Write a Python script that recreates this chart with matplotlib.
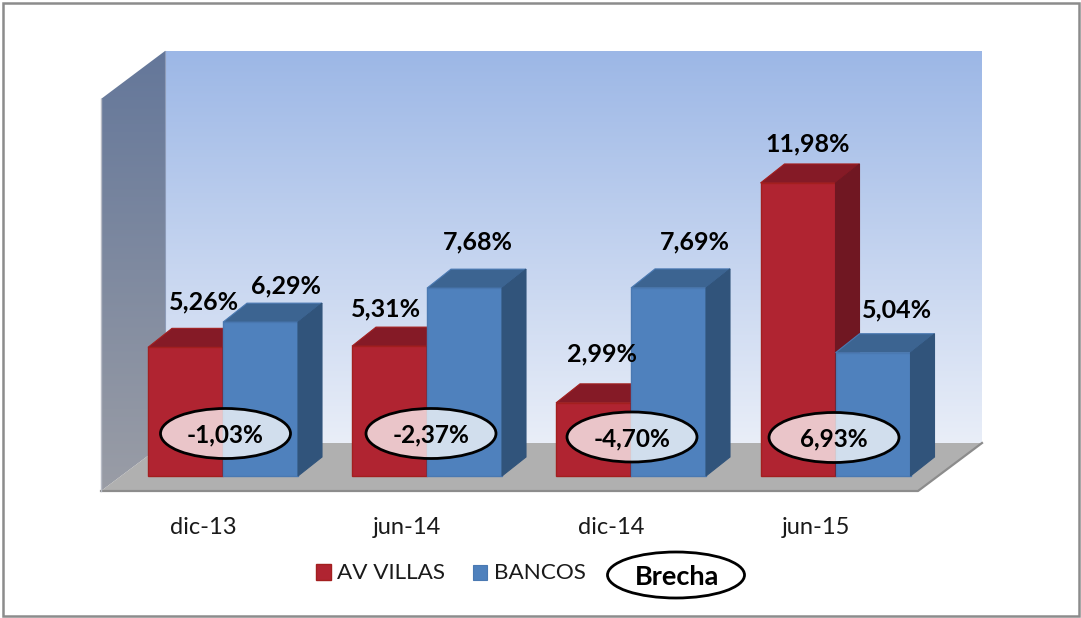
import numpy as np
import matplotlib
matplotlib.use('Agg')
import matplotlib.pyplot as plt
from matplotlib.colors import LinearSegmentedColormap
from matplotlib.patches import Polygon, Ellipse, Rectangle

# chart values
fechas = ['dic-13', 'jun-14', 'dic-14', 'jun-15']
av_villas = [5.26, 5.31, 2.99, 11.98]
bancos = [6.29, 7.68, 7.69, 5.04]
brecha = [-1.03, -2.37, -4.70, 6.93]

# layout, all in picture pixels
W, H = 1081, 618
base_y = 476
px_per_unit = 24.46
group_x = [223, 427, 631, 835.5]
bar_w = 75
dx3d, dy3d = 24, 19
ell_y = [433.5, 433.5, 437, 437.5]
ell_x = [225.5, 431, 632, 834]
red_lab = [(18, -45), (-4, -37), (9, -49), (10, -39)]
blue_lab = [(25, -36), (13, -46), (26, -46), (24, -43)]

plt.rcParams['font.family'] = ['Lato', 'DejaVu Sans']

def val(py):
    return (base_y - py) / px_per_unit

def fmt(v):
    return f'{v:.2f}%'.replace('.', ',')

fig = plt.figure(figsize=(W / 100, H / 100), dpi=100)
ax = fig.add_axes([0, 0, 1, 1])
ax.set_xlim(0, W)
ax.set_ylim(val(H), val(0))
ax.axis('off')

def poly(points, **kw):
    p = Polygon([(x, val(y)) for x, y in points], closed=True, **kw)
    ax.add_patch(p)
    return p

def gradient(points, top, bottom, y0, y1, x0, x1, z):
    cmap = LinearSegmentedColormap.from_list('g', [top, bottom])
    img = ax.imshow(np.linspace(0, 1, 256).reshape(-1, 1), cmap=cmap, aspect='auto',
                    extent=(x0, x1, val(y1), val(y0)), zorder=z)
    clip = poly(points, facecolor='none', edgecolor='none')
    img.set_clip_path(clip)

# walls and floor
gradient([(165, 51), (982, 51), (982, 443), (165, 443)], '#9cb7e6', '#e9eef8', 51, 443, 165, 982, 1)
gradient([(101, 99), (165, 51), (165, 443), (101, 491)], '#64779a', '#9a9da6', 51, 491, 101, 165, 1)
poly([(101, 491), (165, 443), (982, 443), (918, 491)], facecolor='#b0b0b0', edgecolor='none', zorder=2)
ax.plot([101, 918, 982], [val(491), val(491), val(443)], color='#8c8c8c', lw=1.6, zorder=2)
ax.plot([101, 101], [val(99), val(491)], color='#b8bcc6', lw=1, zorder=2)
ax.plot([165, 165], [val(51), val(443)], color='#8e9cb8', lw=0.8, zorder=2)

def bars3d(xs, values, front, top, side, edge, z):
    ax.bar(xs, values, width=bar_w, align='edge', color=front, edgecolor=edge, linewidth=1, zorder=z)
    for x, v in zip(xs, values):
        y = base_y - v * px_per_unit
        poly([(x, y), (x + dx3d, y - dy3d), (x + bar_w + dx3d, y - dy3d), (x + bar_w, y)],
             facecolor=top, edgecolor=edge, lw=0.8, zorder=z)
        poly([(x + bar_w, y), (x + bar_w + dx3d, y - dy3d), (x + bar_w + dx3d, base_y - dy3d), (x + bar_w, base_y)],
             facecolor=side, edgecolor=side, lw=0.8, zorder=z)

gx = np.array(group_x)
bars3d(gx - bar_w, av_villas, '#b02431', '#851a26', '#701722', '#a31f1f', 3)
bars3d(gx, bancos, '#4f81bd', '#3c6491', '#31547b', '#4a79b2', 4)

# value labels
for x, v, off in zip(gx - bar_w, av_villas, red_lab):
    ax.text(x + bar_w / 2 + off[0], val(base_y - v * px_per_unit + off[1]), fmt(v),
            ha='center', va='center', fontsize=18, fontweight='bold', color='black', zorder=6)
for x, v, off in zip(gx, bancos, blue_lab):
    ax.text(x + bar_w / 2 + off[0], val(base_y - v * px_per_unit + off[1]), fmt(v),
            ha='center', va='center', fontsize=18, fontweight='bold', color='black', zorder=6)

# gap ellipses
for x, y, b in zip(ell_x, ell_y, brecha):
    ax.add_patch(Ellipse((x, val(y)), 130, 50 / px_per_unit, facecolor=(1, 1, 1, 0.74),
                         edgecolor='black', lw=2, zorder=7))
    ax.text(x, val(y + 1.5), fmt(b), ha='center', va='center', fontsize=17.6, fontweight='bold', zorder=8)

# category labels
for x, f in zip(gx - 20, fechas):
    ax.text(x, val(527), f, ha='center', va='center', fontsize=17, color='#1a1a1a')

# legend
ax.add_patch(Rectangle((315.5, val(580)), 15, 16 / px_per_unit, facecolor='#b02431', edgecolor='#a31f1f', lw=1))
ax.text(337, val(573), 'AV VILLAS', ha='left', va='center', fontsize=16.2, color='#1a1a1a')
ax.add_patch(Rectangle((472.5, val(579.5)), 14, 15 / px_per_unit, facecolor='#4f81bd', edgecolor='#4a79b2', lw=0.8))
ax.text(494, val(573), 'BANCOS', ha='left', va='center', fontsize=16.2, color='#1a1a1a')
ax.add_patch(Ellipse((676, val(575)), 137, 46 / px_per_unit, facecolor='white', edgecolor='black', lw=2))
ax.text(677, val(577), 'Brecha', ha='center', va='center', fontsize=19.5, fontweight='bold')

# outer frame
ax.add_patch(Rectangle((3, val(616)), W - 5, 613 / px_per_unit, facecolor='none', edgecolor='#8c8c8c', lw=1.8, zorder=9))

fig.savefig('out.png', dpi=100)
